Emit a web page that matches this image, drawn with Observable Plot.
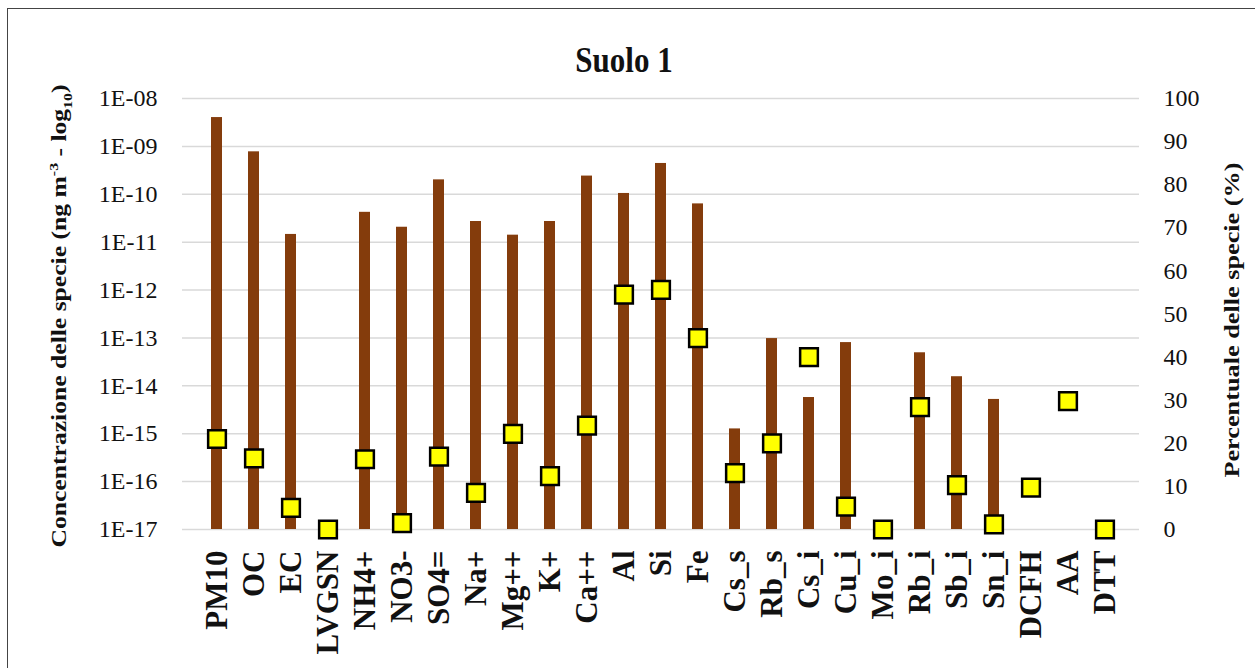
<!DOCTYPE html>
<html>
<head>
<meta charset="utf-8">
<script src="https://cdn.jsdelivr.net/npm/d3@7"></script>
<script src="https://cdn.jsdelivr.net/npm/@observablehq/plot@0.6"></script>
<style>
  html, body { margin: 0; padding: 0; background: #fff; width: 1255px; height: 668px; overflow: hidden; }
  #frame { position: absolute; left: 7px; top: 8px; width: 1300px; height: 720px; border: 1.5px solid #444; box-sizing: border-box; }
  #chart { position: absolute; left: 0; top: 0; }
  .title { position: absolute; left: 624px; top: 60px; transform: translate(-50%, -50%) scale(1.0, 1.15); font-family: "Liberation Serif", serif; font-weight: bold; font-size: 31px; color: #111; white-space: nowrap; }
  .ylab { position: absolute; font-family: "Liberation Serif", serif; font-weight: bold; font-size: 21px; color: #111; white-space: nowrap; }
</style>
</head>
<body>
<div id="frame"></div>
<div id="chart"></div>
<div class="title">Suolo 1</div>
<div class="ylab" style="left:61px; top:316px; transform: translate(-50%, -50%) rotate(-90deg) scale(1.22, 1);">Concentrazione delle specie (ng m<sup style="font-size:13px">-3</sup> - log<sub style="font-size:13px">10</sub>)</div>
<div class="ylab" style="left:1232px; top:320px; transform: translate(-50%, -50%) rotate(-90deg) scale(1.25, 1);">Percentuale delle specie (%)</div>
<script>
const categories = ["PM10","OC","EC","LVGSN","NH4+","NO3-","SO4=","Na+","Mg++","K+","Ca++","Al","Si","Fe","Cs_s","Rb_s","Cs_i","Cu_i","Mo_i","Rb_i","Sb_i","Sn_i","DCFH","AA","DTT"];
const concentration = [4.0e-9, 7.7e-10, 1.45e-11, null, 4.2e-11, 2.05e-11, 2.0e-10, 2.7e-11, 1.4e-11, 2.7e-11, 2.4e-10, 1.04e-10, 4.4e-10, 6.3e-11, 1.26e-15, 9.7e-14, 5.7e-15, 8.0e-14, null, 4.9e-14, 1.55e-14, 5.2e-15, null, null, null];
const percent = [21, 16.5, 5, 0, 16.3, 1.5, 16.9, 8.5, 22.2, 12.4, 24.1, 54.5, 55.6, 44.4, 13.1, 20, 40, 5.3, 0, 28.4, 10.3, 1.2, 9.7, 29.8, 0];
const leftTicks = [1e-17, 1e-16, 1e-15, 1e-14, 1e-13, 1e-12, 1e-11, 1e-10, 1e-9, 1e-8];
const rightTicks = [0, 10, 20, 30, 40, 50, 60, 70, 80, 90, 100];

const yMin = 1e-17, yMax = 1e-8;
const decades = Math.log10(yMax) - Math.log10(yMin);
// map the right-hand percentage axis onto the shared log scale
const pctToY = p => Math.pow(10, Math.log10(yMin) + p / 100 * decades);

const bars = categories.map((c, i) => ({cat: c, base: yMin, value: concentration[i]})).filter(d => d.value != null);
const squares = categories.map((c, i) => ({cat: c, pct: percent[i]}));

const serif = "Liberation Serif, serif";

const chart = Plot.plot({
  width: 1255,
  height: 668,
  marginLeft: 182,
  marginRight: 116,
  marginTop: 98,
  marginBottom: 139,
  style: {fontFamily: serif, background: "transparent", color: "#111"},
  x: {domain: categories, padding: 0.69, label: null},
  y: {type: "log", domain: [yMin, yMax], label: null},
  marks: [
    Plot.gridY(leftTicks, {stroke: "#d9d9d9", strokeOpacity: 1, strokeWidth: 1.5}),
    Plot.axisY(leftTicks, {anchor: "left", tickSize: 0, tickPadding: 25, fontSize: 24, fontFamily: serif, label: null,
      tickFormat: d => "1E-" + String(-Math.round(Math.log10(d))).padStart(2, "0")}),
    Plot.text(rightTicks, {y: d => pctToY(d), text: d => String(d), frameAnchor: "right", textAnchor: "start", dx: 24, fontSize: 24, fontFamily: serif, fill: "#111"}),
    Plot.axisX({anchor: "bottom", tickSize: 0, tickPadding: 21, tickRotate: -90, fontSize: 31, fontWeight: "bold", fontFamily: serif, label: null}),
    Plot.barY(bars, {x: "cat", y1: "base", y2: "value", fill: "#843c0c"}),
    Plot.dot(squares, {x: "cat", y: d => pctToY(d.pct), symbol: "square", r: 10, fill: "#ffff00", stroke: "#000", strokeWidth: 2.5})
  ]
});
document.getElementById("chart").appendChild(chart);
</script>
</body>
</html>
